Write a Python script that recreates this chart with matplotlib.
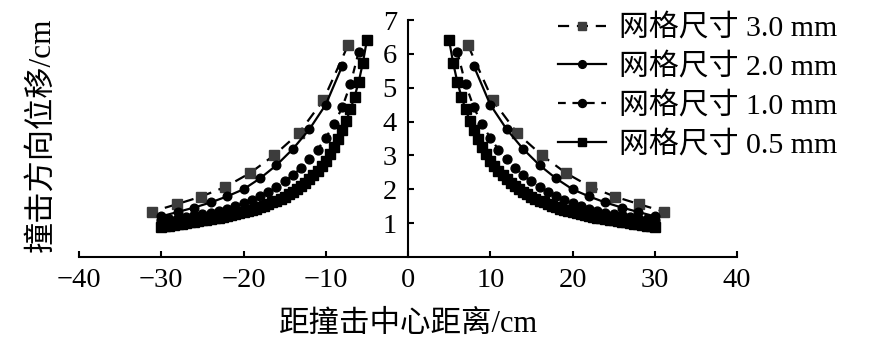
import matplotlib
matplotlib.use("Agg")
import matplotlib.pyplot as plt
import numpy as np

plt.rcParams['font.family'] = ['Liberation Serif', 'Noto Sans CJK SC']
plt.rcParams['axes.unicode_minus'] = True

# Distance from impact centre (cm) and displacement along impact direction (cm)
x_30 = [7.3, 10.3, 13.3, 16.3, 19.2, 22.2, 25.2, 28.1, 31.1]
y_30 = [6.25, 4.63, 3.65, 3.00, 2.48, 2.07, 1.78, 1.56, 1.34]

x_20 = [8, 10, 12, 14, 16, 18, 20, 22, 24, 26, 28, 30]
y_20 = [5.64, 4.50, 3.77, 3.19, 2.71, 2.32, 2.00, 1.79, 1.61, 1.46, 1.33, 1.20]

x_10 = [6, 7, 8, 9, 10, 11, 12, 13, 14, 15, 16, 17, 18, 19, 20,
        21, 22, 23, 24, 25, 26, 27, 28, 29, 30]
y_10 = [6.06, 5.10, 4.42, 3.92, 3.52, 3.17, 2.88, 2.63, 2.42, 2.23, 2.07, 1.93, 1.80,
        1.69, 1.59, 1.50, 1.43, 1.37, 1.31, 1.27, 1.23, 1.19, 1.16, 1.13, 1.10]

x_05 = [5.0, 5.5, 6.0, 6.5, 7.0, 7.5, 8.0, 8.5, 9.0, 9.5, 10.0, 10.5, 11.0, 11.5,
        12.0, 12.5, 13.0, 13.5, 14.0, 14.5, 15.0, 15.5, 16.0, 16.5, 17.0, 17.5,
        18.0, 18.5, 19.0, 19.5, 20.0, 20.5, 21.0, 21.5, 22.0, 22.5, 23.0, 23.5,
        24.0, 24.5, 25.0, 25.5, 26.0, 26.5, 27.0, 27.5, 28.0, 28.5, 29.0, 29.5, 30.0]
y_05 = [6.40, 5.72, 5.17, 4.73, 4.36, 4.03, 3.75, 3.48, 3.25, 3.04, 2.85, 2.69, 2.54,
        2.41, 2.29, 2.19, 2.09, 2.00, 1.92, 1.85, 1.78, 1.72, 1.66, 1.61, 1.56, 1.51,
        1.47, 1.43, 1.39, 1.36, 1.33, 1.30, 1.27, 1.24, 1.21, 1.19, 1.16, 1.14, 1.12,
        1.10, 1.08, 1.06, 1.04, 1.02, 1.00, 0.98, 0.97, 0.95, 0.93, 0.92, 0.90]

labels = ['网格尺寸 3.0 mm', '网格尺寸 2.0 mm', '网格尺寸 1.0 mm', '网格尺寸 0.5 mm']
x_ticks = [-40, -30, -20, -10, 0, 10, 20, 30, 40]
y_ticks = [1, 2, 3, 4, 5, 6, 7]

fig = plt.figure(figsize=(8.86, 3.5), dpi=100)
ax = fig.add_axes([79 / 886, 93 / 350, 658 / 886, 237 / 350])

styles = [
    dict(color='black', lw=1.6, ls=(0, (5, 3.5)), marker='s', ms=6.6,
         mfc='#3c3c3c', mec='#3c3c3c'),
    dict(color='black', lw=1.6, ls='-', marker='o', ms=6.2,
         mfc='black', mec='black'),
    dict(color='black', lw=1.6, ls=(0, (3.5, 3)), marker='o', ms=6.4,
         mfc='black', mec='black'),
    dict(color='black', lw=1.6, ls='-', marker='s', ms=6.6,
         mfc='black', mec='black'),
]
series = [(x_30, y_30), (x_20, y_20), (x_10, y_10), (x_05, y_05)]

handles = []
for (xs, ys), st, lab in zip(series, styles, labels):
    xs = np.asarray(xs, dtype=float)
    h, = ax.plot(xs, ys, label=lab, **st)
    ax.plot(-xs, ys, **st)
    handles.append(h)

ax.set_xlim(-40, 40)
ax.set_ylim(0, 7)
ax.set_xticks(x_ticks)
ax.set_yticks(y_ticks)

ax.spines['left'].set_position(('data', 0))
ax.spines['top'].set_visible(False)
ax.spines['right'].set_visible(False)
for s in ('left', 'bottom'):
    ax.spines[s].set_linewidth(1.5)

ax.tick_params(axis='both', direction='in', length=4, width=1.5, labelsize=20.5)
ax.tick_params(axis='y', pad=8)
ax.tick_params(axis='x', pad=8)

ax.set_xlabel('距撞击中心距离/cm', fontsize=22, labelpad=12)
ax.set_ylabel('撞击方向位移/cm', fontsize=22.5)
ax.yaxis.set_label_coords(57 / 886, 215 / 350, transform=fig.transFigure)

fig.legend(handles=handles, loc='upper left', bbox_to_anchor=(558 / 886, 1 - 14 / 350),
           frameon=False, fontsize=21.5, handlelength=1.6, handletextpad=0.45,
           labelspacing=0.36, borderpad=0, borderaxespad=0, markerscale=0.9)

fig.savefig('out.png', dpi=100)
